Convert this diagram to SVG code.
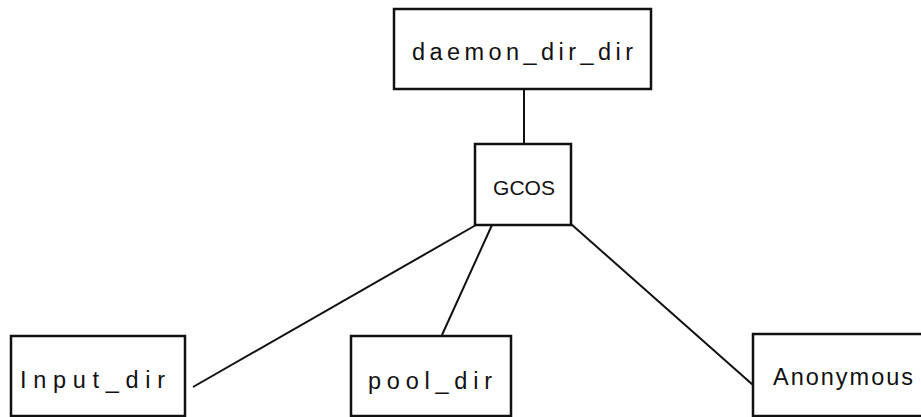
<svg xmlns="http://www.w3.org/2000/svg" width="921" height="417" viewBox="0 0 921 417">
<style>
.box{fill:#ffffff;stroke:#111111;stroke-width:2.5}
.lbl{font-family:"Liberation Sans","DejaVu Sans",sans-serif;font-size:23.5px;fill:#111111}
.edge{stroke:#111111;stroke-width:2;fill:none}
</style>
<rect width="921" height="417" fill="#ffffff"/>
<g id="connectors">
<line class="edge" x1="524" y1="89" x2="524" y2="144"/>
<line class="edge" x1="476" y1="225" x2="193" y2="387"/>
<line class="edge" x1="492" y1="225" x2="442" y2="335"/>
<line class="edge" x1="571" y1="224" x2="753" y2="385"/>
</g>
<g id="daemon_dir_dir">
<rect class="box" x="394" y="9" width="257" height="80"/>
<text class="lbl" x="412" y="60" textLength="221" lengthAdjust="spacing">daemon_dir_dir</text>
</g>
<g id="GCOS">
<rect class="box" x="475" y="144" width="96" height="81"/>
<text class="lbl" x="493" y="195" style="font-size:21px" textLength="62" lengthAdjust="spacing">GCOS</text>
</g>
<g id="Input_dir">
<rect class="box" x="11" y="336" width="174" height="80"/>
<text class="lbl" x="20" y="388" textLength="145" lengthAdjust="spacing">Input_dir</text>
</g>
<g id="pool_dir">
<rect class="box" x="351" y="336" width="160" height="80"/>
<text class="lbl" x="368" y="389" textLength="124" lengthAdjust="spacing">pool_dir</text>
</g>
<g id="Anonymous">
<rect class="box" x="753" y="334" width="180" height="82"/>
<text class="lbl" x="773" y="385" textLength="140" lengthAdjust="spacing">Anonymous</text>
</g>
</svg>
